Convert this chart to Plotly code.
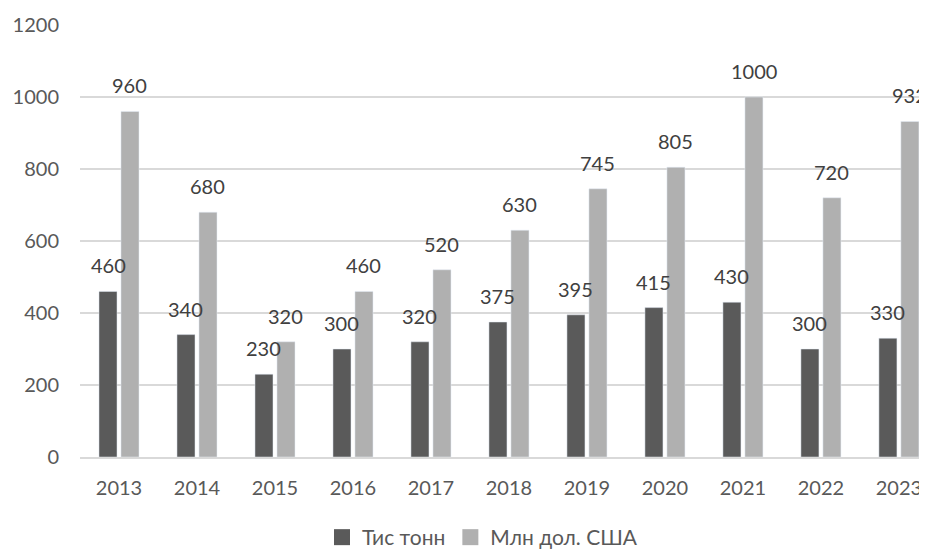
import plotly.graph_objects as go

years = ["2013", "2014", "2015", "2016", "2017", "2018", "2019", "2020", "2021", "2022", "2023"]
tons = [460, 340, 230, 300, 320, 375, 395, 415, 430, 300, 330]
usd = [960, 680, 320, 460, 520, 630, 745, 805, 1000, 720, 932]
y_ticks = [0, 200, 400, 600, 800, 1000, 1200]
names = ["Тис тонн", "Млн дол. США"]
colors = ["#5a5a5a", "#b0b0b0"]

FONT = "Lato"
FS = 20

fig = go.Figure()
for i, (vals, nm, col) in enumerate(zip([tons, usd], names, colors)):
    fig.add_trace(go.Bar(
        x=years, y=vals, name=nm, marker=dict(color=col),
        showlegend=False, offsetgroup=str(i),
    ))
# legend-only traces with larger square symbols
for nm, col in zip(names, colors):
    fig.add_trace(go.Scatter(
        x=[None], y=[None], mode="markers", name=nm,
        marker=dict(symbol="square", size=17, color=col),
        showlegend=True,
    ))

# data labels above bars
for j, (vals, shift) in enumerate([(tons, -0.141), (usd, 0.141)]):
    for k, v in enumerate(vals):
        fig.add_annotation(
            x=k + shift, y=v, xref="x", yref="y", text=str(v),
            showarrow=False, yanchor="middle", yshift=26,
            font=dict(family=FONT, size=FS, color="#404040"),
        )

fig.update_layout(
    width=919, height=550,
    margin=dict(l=72, r=0, t=17, b=101, autoexpand=False),
    paper_bgcolor="white", plot_bgcolor="white",
    barmode="group", bargap=0.436, bargroupgap=0.18,
    font=dict(family=FONT, size=FS, color="#595959"),
    showlegend=True,
    legend=dict(orientation="h", x=0.3417, xanchor="left", xref="container",
                y=0.0, yanchor="bottom", yref="container",
                font=dict(size=21, color="#595959"),
                itemsizing="trace", traceorder="normal"),
)
fig.update_xaxes(
    type="category", range=[-0.5, 10.36], automargin=False,
    showgrid=False, showline=True, linecolor="#d9d9d9", linewidth=2,
    ticks="", tickfont=dict(size=FS, color="#595959"), ticklabelstandoff=12,
)
fig.update_yaxes(
    range=[0, 1200], tickvals=y_ticks, automargin=False,
    showgrid=True, gridcolor="#d9d9d9", gridwidth=1.5,
    zeroline=False, showline=False, ticks="",
    tickfont=dict(size=FS, color="#595959"), ticklabelstandoff=20,
)

fig.write_html("out.html")
